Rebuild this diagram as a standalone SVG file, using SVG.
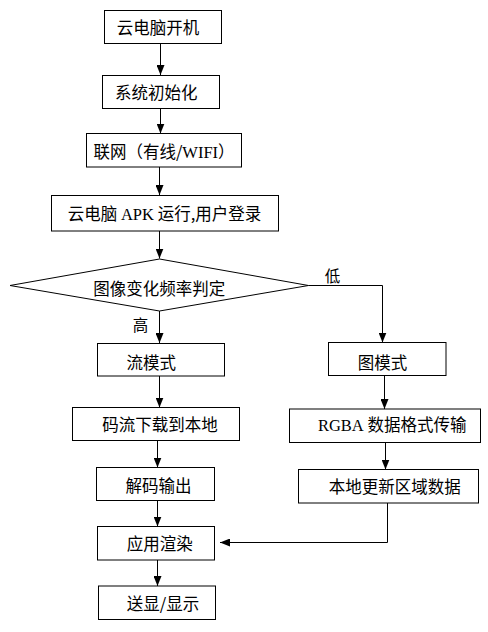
<svg xmlns="http://www.w3.org/2000/svg" width="488" height="632" viewBox="0 0 488 632">
<defs>
<marker id="ah" markerUnits="userSpaceOnUse" markerWidth="10" markerHeight="8" refX="10" refY="4" orient="auto">
<path d="M0,0 L10,4 L0,8 z" fill="#000"/>
</marker>
<style>
.box{fill:#fff;stroke:#000;stroke-width:1}
.t{font-family:"Noto Sans CJK SC","Liberation Sans",sans-serif;font-size:16.5px;fill:#000;text-anchor:middle}
.l{font-family:"Liberation Serif",serif}
.c{fill:none;stroke:#000;stroke-width:1;marker-end:url(#ah)}
</style>
</defs>
<rect width="488" height="632" fill="#fff"/>
<g id="connectors">
<path class="c" d="M160.5 43.5 V75"/>
<path class="c" d="M160.5 108.5 V133.5"/>
<path class="c" d="M159.5 167 V195"/>
<path class="c" d="M159.5 231 V258.5"/>
<path class="c" d="M159.5 311 V343"/>
<path class="c" d="M308.5 285.5 H382.5 V342.5"/>
<path class="c" d="M159.5 376 V407.5"/>
<path class="c" d="M384.5 375.5 V409"/>
<path class="c" d="M157.5 440.5 V467.5"/>
<path class="c" d="M385.5 442.5 V469.5"/>
<path class="c" d="M157.5 500.5 V526.5"/>
<path class="c" d="M387.5 503 V542.5 H220"/>
<path class="c" d="M157.5 560 V586"/>
<text class="t" x="332.5" y="282" style="font-size:15.5px">低</text>
<text class="t" x="140.5" y="331" style="font-size:15.5px">高</text>
</g>
<g id="n1"><rect class="box" x="104.5" y="10.5" width="117" height="33"/><text class="t" x="158" y="34">云电脑开机</text></g>
<g id="n2"><rect class="box" x="102.5" y="75.5" width="117" height="33"/><text class="t" x="156.2" y="99">系统初始化</text></g>
<g id="n3"><rect class="box" x="86.5" y="133.5" width="155" height="33.5"/><text class="t" x="164" y="158">联网（有线/<tspan class="l">WIFI</tspan>）</text></g>
<g id="n4"><rect class="box" x="51.5" y="195.5" width="227" height="35.5"/><text class="t" x="164.5" y="220">云电脑 <tspan class="l">APK</tspan> 运行,用户登录</text></g>
<g id="n5"><polygon class="box" points="10,285.5 159.5,259 308.5,285.5 159.5,311"/><text class="t" x="159.2" y="294.5">图像变化频率判定</text></g>
<g id="n6"><rect class="box" x="97.5" y="343.5" width="127" height="32.5"/><text class="t" x="151.2" y="368.5">流模式</text></g>
<g id="n7"><rect class="box" x="328.5" y="342.5" width="117.5" height="33"/><text class="t" x="382.5" y="368.5">图模式</text></g>
<g id="n8"><rect class="box" x="72.5" y="407.5" width="167" height="33"/><text class="t" x="160" y="431">码流下载到本地</text></g>
<g id="n9"><rect class="box" x="289.5" y="409" width="191" height="33.5"/><text class="t" x="392.2" y="431"><tspan class="l">RGBA</tspan> 数据格式传输</text></g>
<g id="n10"><rect class="box" x="96.5" y="467.5" width="118" height="33"/><text class="t" x="158.5" y="491.5">解码输出</text></g>
<g id="n11"><rect class="box" x="298.5" y="469.5" width="180" height="33.5"/><text class="t" x="394.7" y="493">本地更新区域数据</text></g>
<g id="n12"><rect class="box" x="97.5" y="526.5" width="117" height="33.5"/><text class="t" x="159.7" y="550">应用渲染</text></g>
<g id="n13"><rect class="box" x="98.5" y="586" width="117" height="33.5"/><text class="t" x="163" y="609.5">送显/显示</text></g>
</svg>
